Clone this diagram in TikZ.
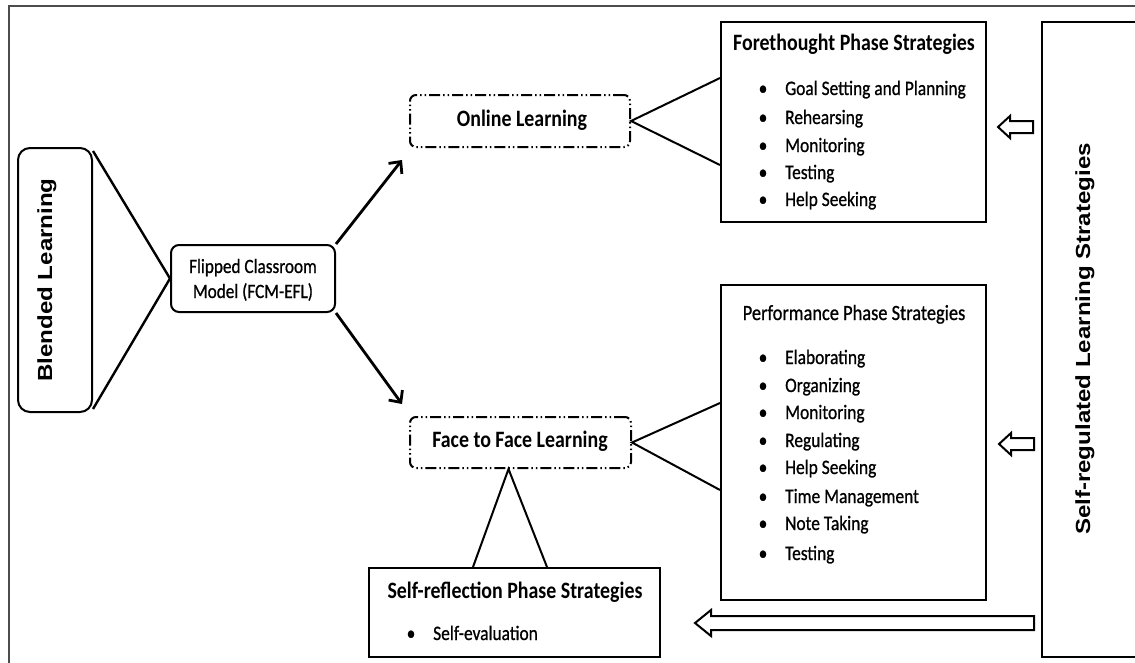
\documentclass[tikz,border=0pt]{standalone}
\usepackage{fontspec}
\setmainfont{Carlito}
\newfontfamily\medfont{Carlito}[FakeBold=0.9]
\newfontfamily\arialf{Liberation Sans}
\usepackage{graphicx}
\usetikzlibrary{arrows.meta}
\newcommand\vst[1]{\scalebox{1}[1.18]{#1}}
\tikzset{
  box/.style={draw, line width=2pt, inner sep=0pt},
  rbox/.style={box, rounded corners=10pt},
  ddbox/.style={draw, line width=2pt, inner sep=0pt, rounded corners=6pt,
     dash pattern=on 11pt off 3pt on 1.5pt off 3pt on 1.5pt off 3pt},
  item/.style={anchor=base west, inner sep=0pt, font=\fontsize{17.4}{20}\selectfont\medfont},
  bul/.style={anchor=base, inner sep=0pt, font=\fontsize{17.4}{20}\selectfont\medfont},
  ttl/.style={anchor=base, inner sep=0pt, font=\fontsize{19.9}{22}\selectfont\bfseries},
  rot/.style={inner sep=0pt, font=\fontsize{20.4}{24}\selectfont\arialf\bfseries},
  conn/.style={line width=2.4pt},
  arr/.style={line width=2.8pt, -{Straight Barb[length=9pt,width=17pt,line width=2.8pt]}},
  hollow/.style={draw, line width=2pt, fill=white, line join=miter},
}
\begin{document}
\begin{tikzpicture}[x=1pt,y=-1pt]
\useasboundingbox (0,0) rectangle (1135,662);
\clip (0,0) rectangle (1135,662);
% outer frame
\draw[line width=2pt, black!70] (9,6) rectangle (1150,675);

% boxes
\node[rbox, rounded corners=12pt, minimum width=74pt, minimum height=264pt] (blend) at (55,280) {};
\node[rot] (blendt) at (47,280) {\vst{\rotatebox{90}{Blended Learning}}};

\node[rbox, rounded corners=8pt, minimum width=164pt, minimum height=67pt] (fcm) at (253,278.5) {};
\node[item, anchor=base, font=\fontsize{17.2}{20}\selectfont\medfont] (fcm1) at (253,273) {\vst{Flipped Classroom}};
\node[item, anchor=base, font=\fontsize{17.2}{20}\selectfont\medfont] (fcm2) at (253,298) {\vst{Model (FCM-EFL)}};

\node[ddbox, minimum width=220pt, minimum height=52pt] (online) at (520,121) {};
\node[ttl] (onlinet) at (522,126) {\vst{Online Learning}};

\node[ddbox, minimum width=221pt, minimum height=51pt] (f2f) at (520.5,442.5) {};
\node[ttl] (f2ft) at (520,447) {\vst{Face to Face Learning}};

\node[box, minimum width=265pt, minimum height=200pt] (fore) at (853.5,122) {};
\node[ttl] (foret) at (854,50) {\vst{Forethought Phase Strategies}};
\foreach \t/\y [count=\i] in {Goal Setting and Planning/95, Rehearsing/124, Monitoring/152, Testing/179, Help Seeking/206}{
  \node[bul] (fb\i) at (763,\y) {\vst{\textbullet}};
  \node[item] (fi\i) at (785,\y) {\vst{\t}};
}

\node[box, minimum width=265pt, minimum height=315pt] (perf) at (853.5,442.5) {};
\node[ttl, font=\fontsize{18.4}{22}\selectfont\medfont] (perft) at (854,320) {\vst{Performance Phase Strategies}};
\foreach \t/\y [count=\i] in {Elaborating/364, Organizing/392, Monitoring/419, Regulating/447, Help Seeking/474, Time Management/503, Note Taking/530, Testing/560}{
  \node[bul] (pb\i) at (763,\y) {\vst{\textbullet}};
  \node[item] (pi\i) at (785,\y) {\vst{\t}};
}

\node[box, minimum width=291pt, minimum height=89pt] (self) at (514.5,612.5) {};
\node[ttl] (selft) at (515,598) {\vst{Self-reflection Phase Strategies}};
\node[bul] (sb1) at (411,640) {\vst{\textbullet}};
\node[item] (si1) at (433,640) {\vst{Self-evaluation}};

\node[box, line width=2.4pt, minimum width=108pt, minimum height=635pt] (srl) at (1096,339.5) {};
\node[rot] (srlt) at (1085,339) {\vst{\rotatebox{90}{Self-regulated Learning Strategies}}};

% connectors
\draw[conn] ([yshift=-4pt]blend.north east) -- (fcm.west) -- ([yshift=4pt]blend.south east);
\draw[arr] (fcm.north east) -- ([xshift=-7pt,yshift=-12pt]online.south west);
\draw[arr] (fcm.south east) -- ([xshift=-7pt,yshift=12pt]f2f.north west);
\draw[conn, line width=2pt] ([yshift=44pt]fore.west) -- (online.east) -- ([yshift=-43pt]fore.west);
\draw[conn, line width=2pt] ([yshift=39.5pt]perf.west) -- (f2f.east) -- ([yshift=-47.5pt]perf.west);
\draw[conn, line width=2pt] ([xshift=-41.5pt]self.north) -- ([xshift=-12pt]f2f.south) -- ([xshift=32.5pt]self.north);

% hollow arrows
\draw[hollow] (998,127) -- (1010,116) -- (1010,121) -- (1033,121) -- (1033,133) -- (1010,133) -- (1010,138) -- cycle;
\draw[hollow] (999,444) -- (1011,433) -- (1011,438) -- (1034,438) -- (1034,450) -- (1011,450) -- (1011,455) -- cycle;
\draw[hollow] (695,623) -- (711,610) -- (711,616) -- (1034,616) -- (1034,630) -- (711,630) -- (711,636) -- cycle;
\end{tikzpicture}
\end{document}
